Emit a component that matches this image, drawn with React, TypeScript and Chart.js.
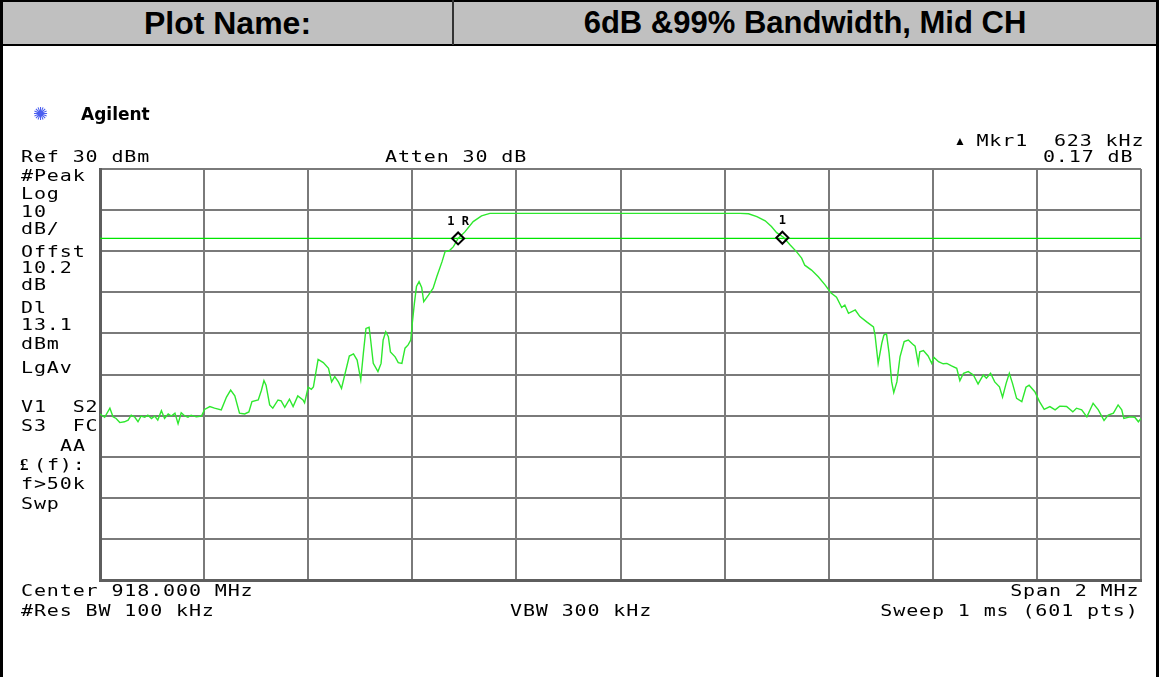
import React, { useEffect, useRef } from "react";
import { Chart, registerables } from "chart.js";

Chart.register(...registerables);

// ---- data (frequency in MHz, level in dBm) ----
const freqMHz: number[] = [
  917.000, 917.009, 917.019, 917.025, 917.031, 917.038, 917.047, 917.054, 917.060, 917.067,
  917.073, 917.079, 917.086, 917.092, 917.099, 917.105, 917.111, 917.118, 917.124, 917.131,
  917.137, 917.144, 917.150, 917.156, 917.163, 917.169, 917.175, 917.185, 917.195, 917.201,
  917.211, 917.220, 917.233, 917.243, 917.251, 917.259, 917.268, 917.278, 917.286, 917.292,
  917.304, 917.310, 917.315, 917.319, 917.326, 917.332, 917.342, 917.348, 917.355, 917.364,
  917.371, 917.380, 917.390, 917.393, 917.400, 917.406,
  917.410, 917.419, 917.429, 917.439, 917.445, 917.451, 917.458, 917.464, 917.471, 917.479,
  917.487, 917.494, 917.501, 917.506, 917.511, 917.517, 917.520, 917.525, 917.534, 917.540,
  917.544, 917.549, 917.554, 917.558, 917.567, 917.573, 917.580, 917.586, 917.592, 917.597,
  917.600, 917.604, 917.608, 917.613, 917.618, 917.622, 917.631, 917.640, 917.647, 917.657,
  917.663, 917.671, 917.679, 917.688, 917.701, 917.717, 917.733, 917.749,
  917.900, 918.100, 918.230,
  918.246, 918.262, 918.278, 918.290, 918.300, 918.313, 918.326, 918.338, 918.348, 918.354,
  918.367, 918.380, 918.393, 918.404, 918.415, 918.425, 918.431, 918.438, 918.451, 918.460,
  918.473, 918.486, 918.489, 918.495, 918.502, 918.506, 918.511, 918.516, 918.521, 918.525,
  918.531, 918.537, 918.545, 918.553, 918.561, 918.566, 918.572,
  918.575, 918.582, 918.591, 918.598, 918.602, 918.611, 918.620, 918.627, 918.636, 918.646,
  918.652, 918.659, 918.668, 918.678, 918.687, 918.697, 918.703, 918.711, 918.719, 918.728,
  918.734, 918.741, 918.747, 918.753, 918.761, 918.771, 918.779, 918.785, 918.796, 918.805,
  918.814, 918.825, 918.835, 918.844, 918.857, 918.869, 918.876, 918.886, 918.896, 918.908,
  918.918, 918.929, 918.937, 918.947, 918.956, 918.963, 918.967, 918.979, 918.988, 918.995,
  919.000,
];

const levelDbm: number[] = [
  -29.6, -30.4, -28.2, -30.3, -30.7, -31.7, -31.5, -31.1, -29.9, -30.4,
  -31.5, -30.1, -30.4, -29.9, -30.7, -30.1, -31.1, -28.8, -30.7, -29.6,
  -30.1, -29.4, -32.0, -29.3, -30.1, -30.4, -29.9, -30.3, -30.1, -28.5,
  -27.8, -28.2, -28.6, -25.5, -23.8, -25.2, -29.4, -29.6, -29.1, -26.6,
  -26.2, -23.9, -21.5, -22.6, -27.4, -28.2, -26.2, -26.4, -28.0, -26.0,
  -27.8, -25.2, -26.2, -26.9, -23.1, -23.6,
  -23.0, -16.3, -17.1, -18.5, -21.8, -20.5, -21.8, -23.4, -19.7, -15.5,
  -15.0, -16.5, -21.3, -14.8, -8.8, -8.5, -11.6, -17.3, -19.3, -17.3,
  -11.6, -9.6, -10.8, -14.5, -15.7, -17.1, -17.3, -13.6, -12.8, -11.6,
  -7.5, -2.7, 1.4, 2.6, 1.2, -2.3, -0.7, 1.0, 3.8, 7.4,
  9.9, 10.1, 11.1, 13.1, 14.7, 17.2, 18.6, 19.2,
  19.2, 19.2, 19.2,
  19.1, 18.4, 17.4, 16.0, 14.5, 13.4, 11.5, 9.9, 8.3, 6.6,
  5.4, 3.8, 1.8, -0.1, -1.2, -3.7, -3.1, -5.1, -4.3, -5.9,
  -7.2, -8.4, -10.4, -17.3, -12.4, -10.4, -10.1, -14.8, -21.8, -24.4,
  -21.8, -15.7, -12.0, -11.6, -12.6, -13.1, -17.3,
  -14.5, -14.2, -15.5, -17.3, -15.8, -16.9, -17.4, -17.3, -17.9, -18.5,
  -21.5, -19.7, -19.3, -20.1, -22.3, -20.1, -20.9, -19.7, -21.8, -23.0,
  -25.5, -22.1, -19.7, -22.1, -25.8, -26.6, -23.1, -22.6, -24.2, -26.6,
  -28.5, -27.8, -28.6, -27.7, -27.8, -29.1, -28.2, -28.6, -30.3, -27.0,
  -28.6, -31.2, -29.9, -29.4, -27.4, -28.6, -30.7, -30.3, -30.4, -31.5,
  -30.7,
];

const markerFreq: number[] = [917.688, 918.311];
const markerLevel: number[] = [13.1, 13.27];
const markerLabel: string[] = ["1R", "1"];

const displayLineDbm = 13.1;
const freqStart = 917;
const freqStop = 919;
const freqDiv = 0.2;
const refLevel = 30;
const bottomLevel = -70;
const dbPerDiv = 10;

const leftAnnot: { text: string; y: number; x?: number }[] = [
  { text: "#Peak", y: 176 },
  { text: "Log", y: 194 },
  { text: "10", y: 212 },
  { text: "dB/", y: 229 },
  { text: "Offst", y: 252 },
  { text: "10.2", y: 268 },
  { text: "dB", y: 285 },
  { text: "Dl", y: 308 },
  { text: "13.1", y: 325 },
  { text: "dBm", y: 344 },
  { text: "LgAv", y: 368 },
  { text: "V1  S2", y: 407 },
  { text: "S3  FC", y: 426 },
  { text: "AA", y: 446, x: 60 },
  { text: "(f):", y: 465, x: 34 },
  { text: "f>50k", y: 484 },
  { text: "Swp", y: 504 },
];

const MONO = "'DejaVu Sans Mono', monospace";

function Txt(props: { x: number; y: number; text: string; right?: boolean }) {
  const style: React.CSSProperties = {
    position: "absolute",
    top: props.y - 8,
    height: 16,
    lineHeight: "16px",
    fontFamily: MONO,
    fontSize: 16,
    letterSpacing: "0.7px",
    whiteSpace: "pre",
    color: "#000",
    transform: "scaleX(1.25)",
    transformOrigin: props.right ? "right center" : "left center",
  };
  if (props.right) style.right = 1159 - props.x;
  else style.left = props.x;
  return <div style={style}>{props.text}</div>;
}

export default function App() {
  const ref = useRef<HTMLCanvasElement | null>(null);

  useEffect(() => {
    if (!ref.current) return;
    const trace = freqMHz.map((f, i) => ({ x: f, y: levelDbm[i] }));
    const dl = [
      { x: freqStart, y: displayLineDbm },
      { x: freqStop, y: displayLineDbm },
    ];
    const markers = markerFreq.map((f, i) => ({ x: f, y: markerLevel[i] }));

    const markerLabels = {
      id: "markerLabels",
      afterDatasetsDraw(chart: any) {
        const ctx = chart.ctx;
        const xs = chart.scales.x;
        const ys = chart.scales.y;
        ctx.save();
        ctx.font = "bold 12px " + MONO;
        ctx.fillStyle = "#000";
        ctx.textAlign = "center";
        ctx.textBaseline = "middle";
        markerFreq.forEach((f, i) => {
          const px = xs.getPixelForValue(f);
          const py = ys.getPixelForValue(markerLevel[i]);
          ctx.fillText(markerLabel[i].split("").join(" "), px, py - 17);
        });
        ctx.restore();
      },
    };

    const chart = new Chart(ref.current, {
      type: "line",
      data: {
        datasets: [
          {
            label: "markers",
            data: markers,
            showLine: false,
            pointStyle: "rectRot",
            pointRadius: 6,
            pointBorderWidth: 2,
            pointBorderColor: "#000",
            pointBackgroundColor: "rgba(255,255,255,0)",
            order: 0,
          } as any,
          {
            label: "trace",
            data: trace,
            borderColor: "#2ee82e",
            borderWidth: 1.4,
            pointRadius: 0,
            tension: 0,
            order: 1,
          },
          {
            label: "display line",
            data: dl,
            borderColor: "#00e600",
            borderWidth: 1.2,
            pointRadius: 0,
            order: 2,
          },
        ],
      },
      options: {
        animation: false,
        responsive: false,
        maintainAspectRatio: false,
        devicePixelRatio: 1,
        layout: { padding: { left: 100, top: 169, right: 18, bottom: 97 } },
        plugins: { legend: { display: false }, tooltip: { enabled: false } },
        events: [],
        scales: {
          x: {
            type: "linear",
            min: freqStart,
            max: freqStop,
            ticks: { display: false, stepSize: freqDiv },
            grid: { color: "#7a7a7a", lineWidth: 2, drawTicks: false },
            border: { display: true, color: "#5e5e5e", width: 3 },
          },
          y: {
            type: "linear",
            min: bottomLevel,
            max: refLevel,
            ticks: { display: false, stepSize: dbPerDiv },
            grid: { color: "#7a7a7a", lineWidth: 2, drawTicks: false },
            border: { display: true, color: "#5e5e5e", width: 3 },
          },
        },
      },
      plugins: [markerLabels],
    });
    return () => chart.destroy();
  }, []);

  return (
    <div style={{ position: "absolute", left: 0, top: 0, width: 1159, height: 677, background: "#fff", overflow: "hidden" }}>
      {/* header row */}
      <div style={{ position: "absolute", left: 0, top: 0, width: 1159, height: 45, background: "#c0c0c0" }} />
      <div style={{ position: "absolute", left: 0, top: 0, width: 1159, height: 2, background: "#000" }} />
      <div style={{ position: "absolute", left: 0, top: 44, width: 1159, height: 2, background: "#000" }} />
      <div style={{ position: "absolute", left: 0, top: 0, width: 3, height: 677, background: "#000" }} />
      <div style={{ position: "absolute", left: 1156, top: 0, width: 3, height: 677, background: "#000" }} />
      <div style={{ position: "absolute", left: 452, top: 0, width: 2, height: 45, background: "#333" }} />
      <div style={{ position: "absolute", left: 3, top: 2, width: 449, height: 42, lineHeight: "42px", textAlign: "center", fontFamily: "'Liberation Sans', Arial, sans-serif", fontWeight: "bold", fontSize: 32, color: "#000" }}>
        Plot Name:
      </div>
      <div style={{ position: "absolute", left: 454, top: 2, width: 702, height: 42, lineHeight: "42px", textAlign: "center", fontFamily: "'Liberation Sans', Arial, sans-serif", fontWeight: "bold", fontSize: 31, color: "#000" }}>
        6dB &amp;99% Bandwidth, Mid CH
      </div>

      <canvas ref={ref} width={1159} height={677} style={{ position: "absolute", left: 0, top: 0, width: 1159, height: 677 }} />

      {/* Agilent logo */}
      <div style={{ position: "absolute", left: 33, top: 104, fontSize: 18, lineHeight: "20px", color: "#4a5ef0", fontFamily: "'DejaVu Sans', sans-serif" }}>✺</div>
      <div style={{ position: "absolute", left: 81, top: 104, fontSize: 17, lineHeight: "20px", fontWeight: "bold", fontFamily: "'DejaVu Sans', sans-serif", color: "#000" }}>Agilent</div>

      <Txt x={21} y={157} text="Ref 30 dBm" />
      <Txt x={385} y={157} text="Atten 30 dB" />
      <div style={{ position: "absolute", left: 954, top: 134, fontSize: 12, lineHeight: "14px", color: "#000" }}>▲</div>
      <Txt x={1144} y={141} right text="Mkr1  623 kHz" />
      <Txt x={1133} y={157} right text="0.17 dB" />

      {leftAnnot.map((a, i) => (
        <Txt key={i} x={a.x ?? 21} y={a.y} text={a.text} />
      ))}
      <div style={{ position: "absolute", left: 20, top: 457, fontSize: 17, lineHeight: "16px", fontWeight: "bold", fontFamily: "'Liberation Serif', serif", color: "#000" }}>£</div>

      <Txt x={21} y={591} text="Center 918.000 MHz" />
      <Txt x={1139} y={591} right text="Span 2 MHz" />
      <Txt x={21} y={611} text="#Res BW 100 kHz" />
      <Txt x={510} y={611} text="VBW 300 kHz" />
      <Txt x={1139} y={611} right text="Sweep 1 ms (601 pts)" />
    </div>
  );
}
